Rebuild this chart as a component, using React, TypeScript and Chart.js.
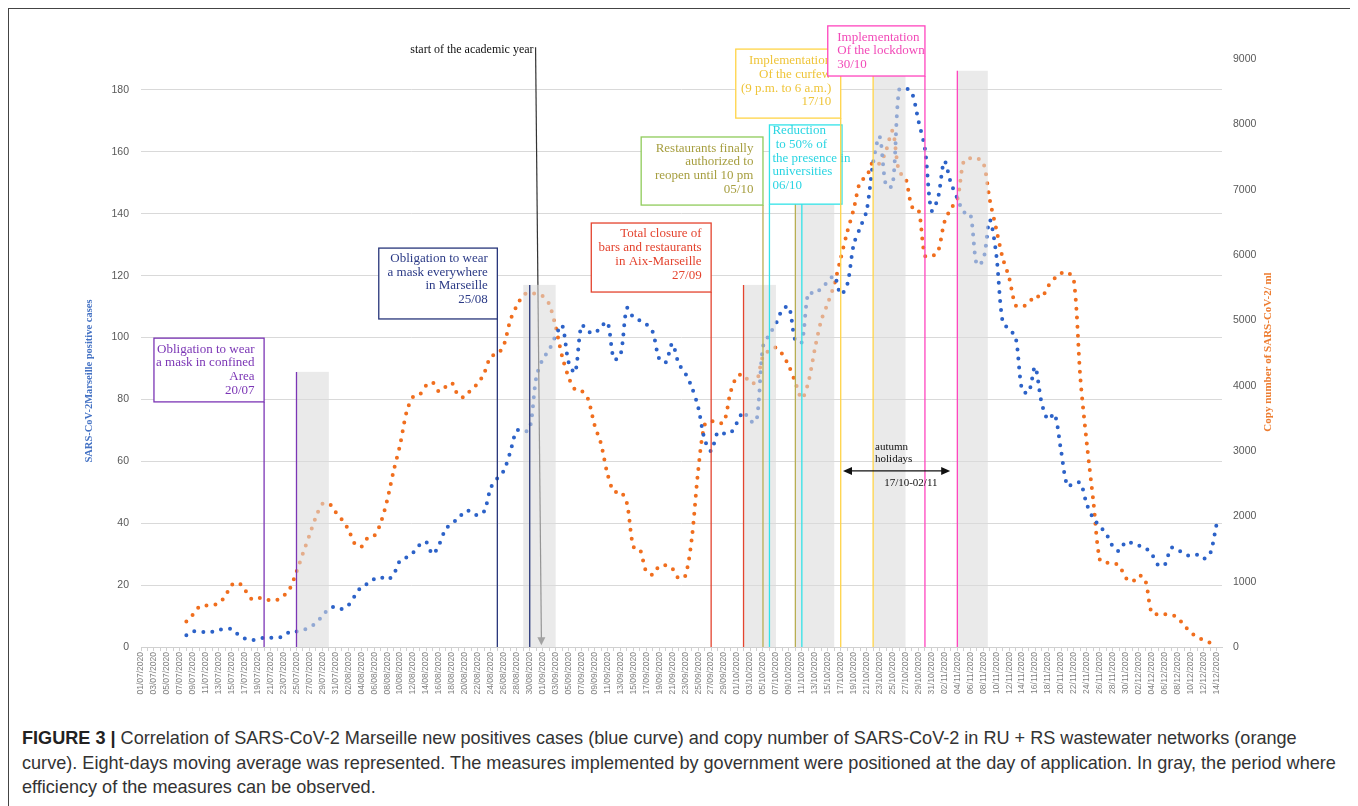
import React, { useEffect, useRef } from "react";
import { Chart, registerables } from "chart.js";

Chart.register(...registerables);

// ---------- categories (one per day, 01/07/2020 .. 14/12/2020) ----------
const FIRST_DAY = new Date(2020, 6, 1);
const DAY_COUNT = 167;
const dayLabels: string[] = Array.from({ length: DAY_COUNT }, (_, i) => {
  const d = new Date(FIRST_DAY.getFullYear(), FIRST_DAY.getMonth(), FIRST_DAY.getDate() + i);
  const dd = String(d.getDate()).padStart(2, "0");
  const mm = String(d.getMonth() + 1).padStart(2, "0");
  return `${dd}/${mm}/${d.getFullYear()}`;
});

// ---------- series: SARS-CoV-2 Marseille positive cases (8-day moving average) ----------
const positiveCases: (number | null)[] = [
  null, null, null, null, null, null, null, 3.8, 5.0, 5.0,
  4.8, 4.9, 5.5, 5.9, 5.8, 4.0, 2.8, 2.3, 2.4, 3.0,
  3.0, 3.0, 3.5, 5.0, 5.0, 5.5, 6.3, 7.8, 10.0, 12.4,
  13.0, 12.3, 13.5, 16.5, 19.4, 20.5, 22.0, 22.5, 21.7, 23.5,
  28.0, 29.0, 30.5, 33.0, 34.0, 30.0, 33.0, 38.0, 40.0, 41.5,
  44.0, 43.8, 42.5, 44.0, 51.5, 54.5, 57.0, 63.0, 70.0, 69.5,
  70.5, 87.0, 93.0, 96.0, 100.6, 104.0, 92.0, 88.7, 104.0, 102.0,
  101.3, 103.5, 105.0, 93.0, 94.2, 109.5, 106.5, 105.5, 104.3, 101.7,
  93.0, 92.0, 98.0, 91.5, 88.5, 84.0, 77.5, 67.0, 63.3, 69.3,
  69.0, 69.2, 72.5, 76.0, 73.0, 73.0, 97.0, 101.0, 104.5, 109.0,
  110.0, 99.0, 98.5, 114.5, 114.1, 116.0, 118.0, 120.0, 114.0, 117.0,
  130.0, 135.5, 141.0, 156.4, 165.0, 149.0, 149.0, 180.0, 180.6, 179.0,
  170.0, 161.0, 141.0, 145.0, 157.0, 150.0, 145.0, 140.5, 140.0, 123.5,
  125.0, 138.0, 127.0, 105.0, 102.7, 100.0, 83.0, 82.2, 90.5, 79.0,
  73.5, 75.4, 63.5, 52.0, 53.0, 53.0, 46.0, 41.5, 39.0, 36.5,
  32.5, 31.0, 34.0, 33.5, 32.8, 32.0, 30.0, 26.5, 26.5, 32.0,
  31.5, 30.0, 29.5, 29.8, 28.5, 30.0, 39.5,
];

// ---------- series: copy number of SARS-CoV-2 / ml in RU + RS wastewater ----------
const copyNumber: (number | null)[] = [
  null, null, null, null, null, null, null, 390, 495, 615,
  635, 640, 670, 780, 950, 985, 880, 740, 760, 720,
  720, 720, 780, 898, 1150, 1434, 1710, 1990, 2190, 2200,
  2070, 1950, 1800, 1580, 1535, 1670, 1700, 1900, 2250, 2700,
  3100, 3600, 3830, 3860, 4000, 4050, 3910, 3980, 4040, 3840,
  3830, 3950, 4030, 4200, 4450, 4480, 4620, 5000, 5221, 5380,
  5430, 5400, 5370, 5250, 4900, 4450, 4130, 3940, 3920, 3793,
  3400, 3110, 2650, 2375, 2385, 2200, 1536, 1495, 1150, 1110,
  1240, 1250, 1200, 1050, 1087, 1650, 2700, 3400, 3460, 3420,
  3450, 3900, 4140, 4170, 4040, 4060, 4450, 4540, 4583, 4480,
  4300, 4050, 3803, 4050, 4560, 5000, 5260, 5550, 5950, 6350,
  6700, 7122, 7200, 7430, 7400, 7600, 7900, 7275, 7180, 6738,
  6697, 5990, 5981, 6050, 6500, 6710, 6850, 7440, 7480, 7480,
  7420, 6850, 6400, 5955, 5650, 5230, 5213, 5260, 5380, 5350,
  5520, 5640, 5720, 5740, 5600, 4100, 3101, 2224, 1330, 1290,
  1290, 1240, 1060, 1000, 1097, 1025, 520, 500, 500, 495,
  450, 330, 230, 150, 110, 66, 0,
];

// ---------- measures (day index of application, box in data units) ----------
const measureDays = [19, 55, 88, 96, 97, 108, 121];
const measureTexts = [
  ["Obligation to wear", "a mask in confined", "Area", "20/07"],
  ["Obligation to wear", "a mask everywhere", "in Marseille", "25/08"],
  ["Total closure of", "bars and restaurants", "in Aix-Marseille", "27/09"],
  ["Restaurants finally", "authorized to", "reopen until 10 pm", "05/10"],
  ["Reduction", " to 50% of", "the presence in", "universities", "06/10"],
  ["Implementation", "Of the curfew", "(9 p.m. to 6 a.m.)", "17/10"],
  ["Implementation", "Of the lockdown", "30/10"],
];
// box [startDay, endDay, topValue, bottomValue] on the left axis
const measureBoxes = [
  [2.0, 19.0, 99.8, 79.2],
  [36.7, 55.0, 128.9, 106.0],
  [69.5, 88.0, 137.0, 114.7],
  [77.2, 96.0, 164.8, 142.8],
  [97.0, 108.2, 168.7, 143.1],
  [91.8, 108.0, 193.2, 170.9],
  [106.0, 121.0, 200.7, 184.5],
];
// period where efficiency of the measure can be observed [fromDay, toDay, topValue]
const effectPeriods = [
  [24, 29, 88.9],
  [59, 64, 117.0],
  [93, 98, 117.0],
  [101, 107, 143.8],
  [113, 118, 186.2],
  [126, 130.7, 186.2],
];
const effectLineTops = [88.9, 117.0, 117.0, 143.8, 143.8, 186.2, 186.2];
const effectDelay = 5;

const academicYearDay = 62; // 01/09
const holidaysFrom = 108.35; // 17/10
const holidaysTo = 124.9; // 02/11

const styles = [
  { line: "#7B35B5", border: "#7B35B5", text: "#7B35B5", align: "right" },
  { line: "#27357A", border: "#27357A", text: "#2B3A86", align: "right" },
  { line: "#E4432E", border: "#E4432E", text: "#E4432E", align: "right" },
  { line: "#B8AE52", border: "#8FCB5A", text: "#A69E3F", align: "right" },
  { line: "#33E3E8", border: "#33E3E8", text: "#2AD5E2", align: "left" },
  { line: "#FFD447", border: "#FFD447", text: "#EFC53A", align: "right" },
  { line: "#FF45BE", border: "#FF45BE", text: "#F24AB8", align: "left" },
];
const textFirst = [11, 10.3, 11, 11.3, 6, 11.7, 11.3];

const SERIF = '"Liberation Serif", "Times New Roman", serif';
const SANS = '"Liberation Sans", Arial, sans-serif';

const annotationPlugin = {
  id: "measures",
  afterDatasetsDraw(chart: any) {
    const { ctx, scales } = chart;
    const xs = scales.x;
    const ys = scales.y;
    const X = (d: number) => xs.getPixelForValue(d);
    const Y = (v: number) => ys.getPixelForValue(v);
    const y0 = Y(0);
    ctx.save();

    // start of the academic year arrow (under the gray periods)
    const ax0 = X(academicYearDay - 1.1);
    const ay0 = Y(193.8);
    const ax1 = X(academicYearDay - 0.2);
    const ay1 = Y(0.6);
    ctx.strokeStyle = "#333";
    ctx.lineWidth = 1.2;
    ctx.beginPath();
    ctx.moveTo(ax0, ay0);
    ctx.lineTo(ax1, ay1 - 6);
    ctx.stroke();
    ctx.fillStyle = "#555";
    ctx.beginPath();
    ctx.moveTo(ax1, ay1);
    ctx.lineTo(ax1 - 4, ay1 - 8);
    ctx.lineTo(ax1 + 4, ay1 - 8);
    ctx.closePath();
    ctx.fill();

    // gray periods
    ctx.fillStyle = "rgba(218,218,218,0.58)";
    for (const [from, to, top] of effectPeriods) {
      ctx.fillRect(X(from), Y(top), X(to) - X(from), y0 - Y(top));
    }

    // measures
    ctx.lineWidth = 1.3;
    measureDays.forEach((day, i) => {
      const st = styles[i];
      const [b0, b1, bt, bb] = measureBoxes[i];
      const l = X(b0);
      const r = X(b1);
      const t = Y(bt);
      const b = Y(bb);
      const ex = X(day);
      ctx.strokeStyle = st.line;
      ctx.beginPath();
      ctx.moveTo(ex, b);
      ctx.lineTo(ex, y0);
      ctx.stroke();
      const fx = X(day + effectDelay);
      ctx.beginPath();
      ctx.moveTo(fx, Y(effectLineTops[i]));
      ctx.lineTo(fx, y0);
      ctx.stroke();
      ctx.fillStyle = "#ffffff";
      ctx.fillRect(l, t, r - l, b - t);
      ctx.strokeStyle = st.border;
      ctx.strokeRect(l, t, r - l, b - t);
      ctx.fillStyle = st.text;
      ctx.font = `13px ${SERIF}`;
      ctx.textBaseline = "middle";
      ctx.textAlign = st.align;
      const tx = st.align === "right" ? r - 9.5 : l + (i === 4 ? 3 : 9.5);
      measureTexts[i].forEach((s, k) => ctx.fillText(s, tx, t + textFirst[i] + k * 13.7));
    });

    ctx.fillStyle = "#111";
    ctx.font = `12px ${SERIF}`;
    ctx.textAlign = "right";
    ctx.textBaseline = "middle";
    ctx.fillText("start of the academic year", ax0 - 2, ay0 + 3);

    const hy = Y(56.9);
    const hx0 = X(holidaysFrom);
    const hx1 = X(holidaysTo);
    ctx.strokeStyle = "#111";
    ctx.fillStyle = "#111";
    ctx.lineWidth = 1.2;
    ctx.beginPath();
    ctx.moveTo(hx0 + 5, hy);
    ctx.lineTo(hx1 - 5, hy);
    ctx.stroke();
    ctx.beginPath();
    ctx.moveTo(hx0, hy);
    ctx.lineTo(hx0 + 9, hy - 4);
    ctx.lineTo(hx0 + 9, hy + 4);
    ctx.closePath();
    ctx.fill();
    ctx.beginPath();
    ctx.moveTo(hx1, hy);
    ctx.lineTo(hx1 - 9, hy - 4);
    ctx.lineTo(hx1 - 9, hy + 4);
    ctx.closePath();
    ctx.fill();
    ctx.font = `11px ${SERIF}`;
    ctx.textAlign = "left";
    ctx.fillText("autumn", X(113.3), Y(64.6));
    ctx.fillText("holidays", X(113.3), Y(60.7));
    ctx.fillText("17/10-02/11", X(114.7), Y(53.0));

    ctx.restore();
  },
  afterDraw(chart: any) {
    const { ctx, chartArea } = chart;
    ctx.save();
    ctx.textAlign = "center";
    ctx.textBaseline = "middle";
    ctx.font = `bold 10.5px ${SERIF}`;
    ctx.fillStyle = "#4472C4";
    ctx.translate(80, 372);
    ctx.rotate(-Math.PI / 2);
    ctx.fillText("SARS-CoV-2Marseille positive cases", 0, 0);
    ctx.restore();
    ctx.save();
    ctx.textAlign = "center";
    ctx.textBaseline = "middle";
    ctx.font = `bold 11px ${SERIF}`;
    ctx.fillStyle = "#ED7D31";
    ctx.translate(chartArea.right + 46, 343);
    ctx.rotate(-Math.PI / 2);
    ctx.fillText("Copy number of SARS-CoV-2/ ml", 0, 0);
    ctx.restore();
  },
};

function MarseilleChart() {
  const ref = useRef<HTMLCanvasElement | null>(null);
  useEffect(() => {
    if (!ref.current) return;
    const chart = new Chart(ref.current, {
      type: "line",
      data: {
        datasets: [
          {
            label: "Positive cases",
            data: positiveCases.map((v, i) => ({ x: i, y: v })) as any,
            yAxisID: "y",
            borderColor: "#2C62C8",
            borderWidth: 4,
            borderDash: [0, 9],
            borderCapStyle: "round",
            pointRadius: 0,
            tension: 0.3,
            fill: false,
          },
          {
            label: "Copy number",
            data: copyNumber.map((v, i) => ({ x: i, y: v })) as any,
            yAxisID: "y1",
            borderColor: "#F06E1E",
            borderWidth: 4,
            borderDash: [0, 9],
            borderCapStyle: "round",
            pointRadius: 0,
            tension: 0.3,
            fill: false,
          },
        ],
      },
      options: {
        animation: false,
        responsive: true,
        maintainAspectRatio: false,
        layout: { padding: { top: 50, left: 0, right: 0, bottom: 0 } },
        plugins: { legend: { display: false }, tooltip: { enabled: false } },
        scales: {
          x: {
            type: "linear",
            min: 0,
            max: 166.85,
            grid: { drawOnChartArea: false, drawTicks: true, tickLength: 4, color: "#d0d0d0" },
            border: { display: true, color: "#d0d0d0" },
            ticks: {
              stepSize: 1,
              includeBounds: false,
              autoSkip: false,
              maxRotation: 90,
              minRotation: 90,
              padding: 1,
              color: "#7f7f7f",
              font: { family: SANS, size: 8.5 },
              callback: (v: any) => (Number.isInteger(v) && v % 2 === 0 ? dayLabels[v] : ""),
            },
            afterFit: (s: any) => {
              s.height = 67;
            },
          },
          y: {
            position: "left",
            min: 0,
            max: 190,
            grid: { color: "#d9d9d9", drawTicks: false },
            border: { display: false },
            ticks: {
              stepSize: 20,
              includeBounds: false,
              padding: 12,
              color: "#595959",
              font: { family: SANS, size: 10.5 },
            },
            afterFit: (s: any) => {
              s.width = 132;
            },
          },
          y1: {
            position: "right",
            min: 0,
            max: 9000,
            grid: { drawOnChartArea: false, drawTicks: false },
            border: { display: false },
            ticks: {
              stepSize: 1000,
              padding: 11,
              color: "#595959",
              font: { family: SANS, size: 10.5 },
              callback: (v: any) => String(v),
            },
            afterFit: (s: any) => {
              s.width = 133;
            },
          },
        },
      } as any,
      plugins: [annotationPlugin as any],
    });
    return () => chart.destroy();
  }, []);
  return <canvas ref={ref} />;
}

const captionLines = [
  "Correlation of SARS-CoV-2 Marseille new positives cases (blue curve) and copy number of SARS-CoV-2 in RU + RS wastewater networks (orange",
  "curve). Eight-days moving average was represented. The measures implemented by government were positioned at the day of application. In gray, the period where",
  "efficiency of the measures can be observed.",
];

export default function App() {
  return (
    <div
      style={{
        position: "relative",
        width: 1348,
        height: 812,
        border: "1px solid #444",
        boxSizing: "border-box",
        background: "#fff",
      }}
    >
      <div style={{ position: "absolute", left: 0, top: 0, width: 1346, height: 705 }}>
        <MarseilleChart />
      </div>
      <div
        style={{
          position: "absolute",
          left: 13,
          top: 717,
          fontFamily: SANS,
          fontSize: 18.1,
          lineHeight: "24.5px",
          color: "#333",
          whiteSpace: "nowrap",
        }}
      >
        <div>
          <b style={{ color: "#222" }}>FIGURE 3 |</b> {captionLines[0]}
        </div>
        <div>{captionLines[1]}</div>
        <div>{captionLines[2]}</div>
      </div>
    </div>
  );
}
